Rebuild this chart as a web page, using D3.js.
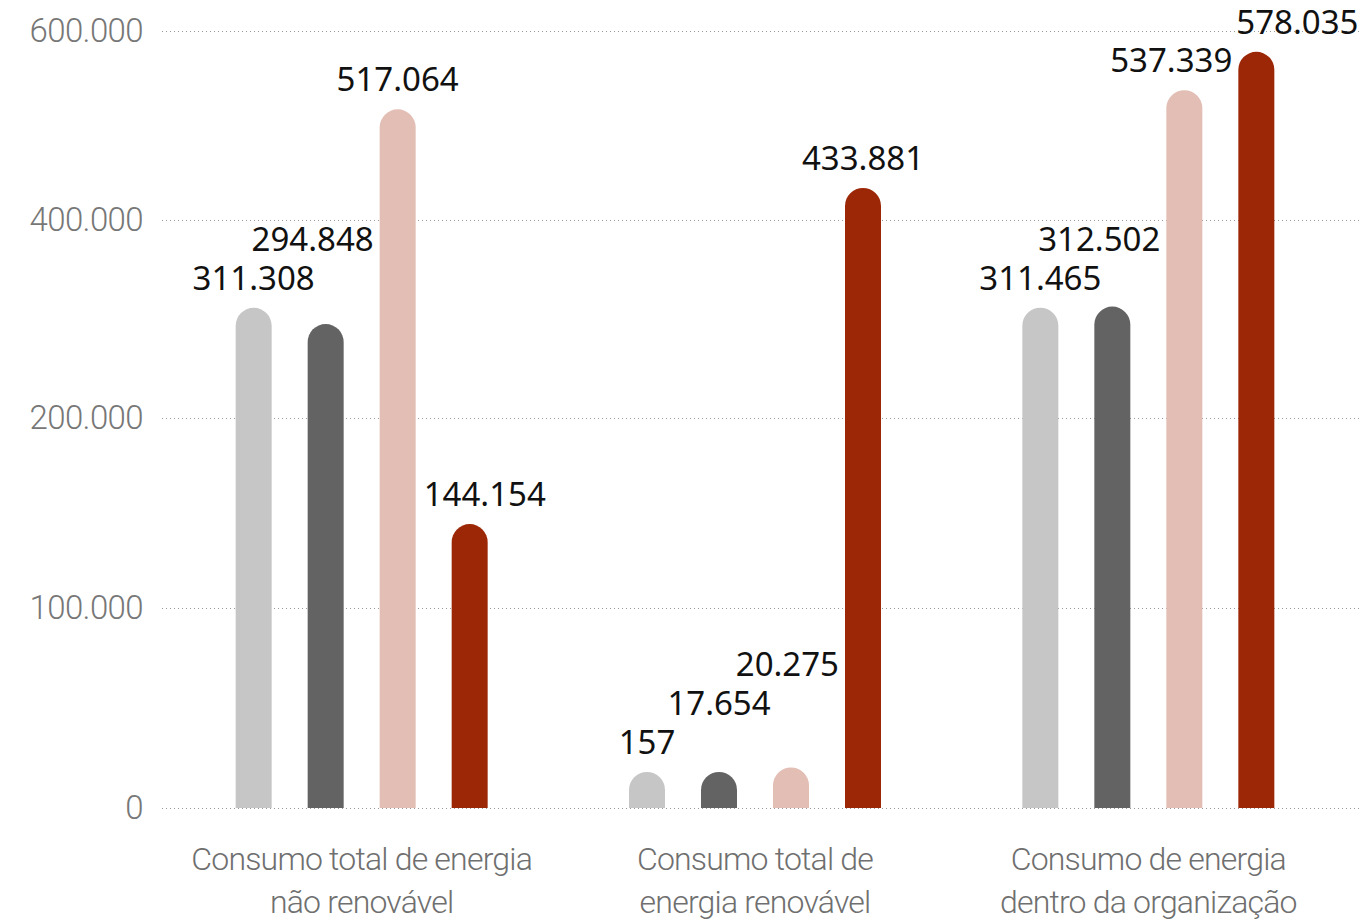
<!DOCTYPE html>
<html>
<head>
<meta charset="utf-8">
<script src="https://cdn.jsdelivr.net/npm/d3@7"></script>
<style>
  html, body { margin: 0; padding: 0; background: #fff; }
  svg { display: block; }
</style>
</head>
<body>
<svg id="chart" width="1362" height="922"></svg>
<script>
// Energy consumption per indicator, four periods each
const categories = [
  ["Consumo total de energia", "não renovável"],
  ["Consumo total de", "energia renovável"],
  ["Consumo de energia", "dentro da organização"]
];
const seriesKeys = ["s1", "s2", "s3", "s4"];
const seriesColors = ["#c6c6c6", "#636363", "#e3beb5", "#9c2706"];
const values = [
  [311308, 294848, 517064, 144154],
  [157, 17654, 20275, 433881],
  [311465, 312502, 537339, 578035]
];
const tickValues = [0, 100000, 200000, 400000, 600000];

const W = 1362;
const svg = d3.select("#chart");
const baseline = 808;

// The value axis is stepped: ticks are spaced evenly even though their values are not
const y = d3.scaleLinear()
  .domain(tickValues)
  .range([808, 608, 418, 220, 31]);

const x0 = d3.scaleBand()
  .domain(d3.range(categories.length))
  .range([165, 1345]);

const x1 = d3.scalePoint()
  .domain(seriesKeys)
  .range([-108, 108]);

const fmt = v => d3.format(",")(v).replace(/,/g, ".");

// Dotted grid lines and tick labels
const grid = svg.append("g");
tickValues.forEach(t => {
  grid.append("line")
    .attr("x1", 162).attr("x2", W)
    .attr("y1", y(t) + 0.5).attr("y2", y(t) + 0.5)
    .attr("stroke", "#9a9a9a")
    .attr("stroke-width", 1)
    .attr("stroke-dasharray", "1,3");
  grid.append("text")
    .attr("x", 143)
    .attr("y", y(t) + 2)
    .attr("text-anchor", "end")
    .attr("dominant-baseline", "middle")
    .attr("font-family", "Roboto, sans-serif")
    .attr("font-weight", 300)
    .attr("font-size", 33)
    .attr("letter-spacing", "-0.6")
    .attr("fill", "#777")
    .text(t === 0 ? "0" : fmt(t));
});

const barW = 36, r = barW / 2;
const barTop = v => Math.min(y(v), baseline - barW);

// Bar with a rounded top; very small values still show a full cap
function barPath(cx, v) {
  const top = barTop(v);
  const left = cx - r, right = cx + r;
  return `M${left},${baseline}V${top + r}A${r},${r} 0 0 1 ${right},${top + r}V${baseline}Z`;
}

const rows = values.map((row, i) => row.map((v, j) => ({
  v, j, key: seriesKeys[j],
  cx: x0(i) + x0.bandwidth() / 2 + x1(seriesKeys[j])
})));

const barsG = svg.append("g");
const labelsG = svg.append("g");

const overlaps = (a, b) =>
  a.x < b.x + b.w && a.x + a.w > b.x &&
  a.y < b.y + b.h - 6 && a.y + a.h - 6 > b.y;

rows.forEach(row => {
  barsG.selectAll(null)
    .data(row)
    .join("path")
    .attr("d", d => barPath(d.cx, d.v))
    .attr("fill", d => seriesColors[d.j]);

  const labels = labelsG.selectAll(null)
    .data(row)
    .join("text")
    .attr("x", d => d.cx)
    .attr("y", d => barTop(d.v) - 18)
    .attr("text-anchor", "middle")
    .attr("font-family", "'Noto Sans', sans-serif")
    .attr("font-size", 33)
    .attr("fill", "#111")
    .text(d => fmt(d.v));

  // Keep value labels clear of neighbouring bars and of each other
  const placed = [];
  labels.each(function (d) {
    const b = this.getBBox();
    let dx = 0, dy = 0;
    row.forEach(o => {
      if (o === d) return;
      const oL = o.cx - r, oR = o.cx + r, oT = barTop(o.v);
      if (b.y + b.height <= oT) return;
      if (o.cx > d.cx && b.x + b.width + 4 > oL) {
        dx = Math.min(dx, oL - 6 - (b.x + b.width));
      }
      if (o.cx < d.cx && b.x - 4 < oR) {
        dx = Math.max(dx, oR + 8 - b.x);
      }
    });
    if (b.x + b.width + dx > W - 2) dx = Math.min(dx, W - 2 - (b.x + b.width));
    const box = { x: b.x + dx, y: b.y, w: b.width, h: b.height };
    placed.forEach(p => {
      if (!overlaps(box, p)) return;
      const up = box.y + box.h - 6 - p.y;
      if (box.y - up >= 4) {
        box.y -= up; dy -= up;
      } else {
        const right = p.x + p.w + 4 - box.x;
        box.x += right; dx += right;
      }
    });
    placed.push(box);
    d3.select(this).attr("x", d.cx + dx).attr("y", barTop(d.v) - 18 + dy);
  });
});

// Category labels
const catG = svg.append("g");
categories.forEach((lines, i) => {
  const cx = x0(i) + x0.bandwidth() / 2;
  const t = catG.append("text")
    .attr("x", cx)
    .attr("y", 870)
    .attr("text-anchor", "middle")
    .attr("font-family", "Roboto, sans-serif")
    .attr("font-weight", 300)
    .attr("font-size", 32)
    .attr("letter-spacing", "-0.8")
    .attr("fill", "#6f6f6f");
  lines.forEach((ln, k) => {
    t.append("tspan")
      .attr("x", cx)
      .attr("dy", k === 0 ? 0 : 43)
      .text(ln);
  });
});
</script>
</body>
</html>
